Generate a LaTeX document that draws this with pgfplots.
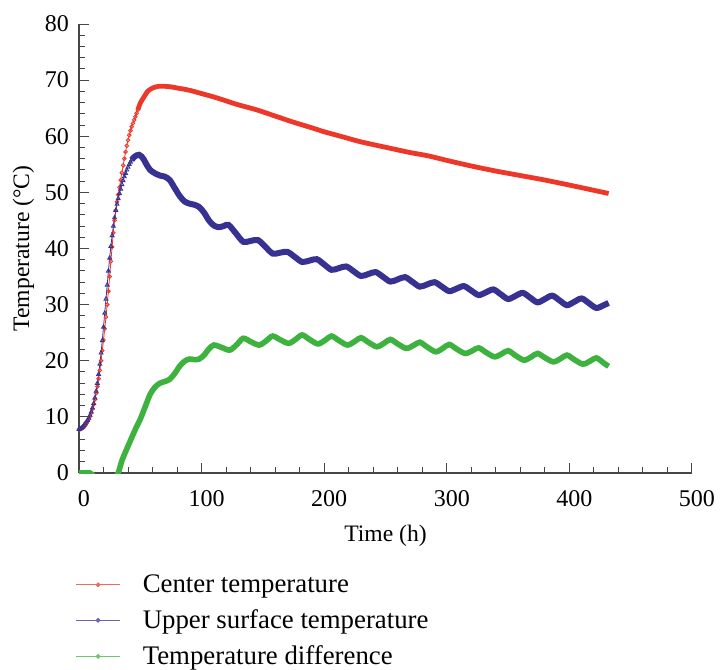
\documentclass[border=0pt]{standalone}
\usepackage{fontspec}
\setmainfont{Liberation Serif}
\usepackage{pgfplots}
\pgfplotsset{compat=1.18}
\definecolor{cRed}{RGB}{237,56,41}
\definecolor{cBlue}{RGB}{55,50,145}
\definecolor{cGreen}{RGB}{62,178,62}
\definecolor{axgray}{RGB}{70,70,70}
\begin{document}
\begin{tikzpicture}
\begin{axis}[
  at={(0,0)}, anchor=south west,
  scale only axis, width=306.5pt, height=224.5pt,
  xmin=0, xmax=500, ymin=0, ymax=80,
  axis lines=left, axis line style={-, axgray, line width=0.6pt},
  xtick={0,100,...,500}, ytick={0,10,...,80},
  minor tick num=4,
  major tick length=5pt, minor tick length=3pt,
  tick style={axgray, line width=0.5pt},
  tick align=inside,
  /pgf/number format/assume math mode=true,
  ticklabel style={font=\fontsize{12}{14}\selectfont, text=black},
  xticklabel style={xshift=2.5pt, yshift=-5pt},
  yticklabel style={xshift=-1.5pt},
  xlabel={Time (h)}, ylabel={Temperature (°C)},
  label style={font=\fontsize{11.8}{14}\selectfont},
  xlabel style={yshift=-2.5pt},
  ylabel style={yshift=-1.5pt},
  legend style={at={(0,0)}, anchor=north west, xshift=-2pt, yshift=-48.5pt,
    draw=none, fill=none, font=\fontsize{13.4}{15}\selectfont, row sep=3.1pt, column sep=9pt, inner sep=0pt},
  legend cell align=left,
  legend image code/.code={\draw[mark repeat=2,mark phase=2,#1] plot coordinates {(0pt,0pt) (11pt,0pt) (22pt,0pt)};},
]
\addlegendimage{cRed!75, line width=0.7pt, mark=*, mark size=0.8pt}
\addlegendentry{Center temperature}
\addlegendimage{cBlue!75, line width=0.7pt, mark=*, mark size=0.8pt}
\addlegendentry{Upper surface temperature}
\addlegendimage{cGreen!75, line width=0.7pt, mark=*, mark size=0.8pt}
\addlegendentry{Temperature difference}

% Center temperature: rise
\addplot[cRed, line width=0.4pt, mark=o, mark size=0.9pt, mark options={line width=0.45pt}, forget plot] coordinates {
(0,7.8)(1,7.8)(2,7.9)(3,8.0)(4,8.2)(5,8.5)(6,8.8)(7,9.2)(8,9.6)(9,10.1)(10,10.7)(11,11.4)(12,12.2)(13,13.1)(14,14.2)(15,15.4)(16,16.8)(17,18.3)(18,20.0)(19,21.8)(20,23.7)(21,25.7)(22,27.8)(23,30.0)(24,32.4)(25,35.0)(26,37.7)(27,40.3)(28,42.8)(29,45.0)(30,46.8)(31,48.3)(32,49.6)(33,50.9)(34,52.2)(35,53.5)(36,54.8)(37,56.0)(38,57.2)(39,58.3)(40,59.3)(41,60.2)(42,61.0)(43,61.7)(44,62.3)(45,62.9)(46,63.5)(47,64.1)(48,64.7)
};
\addplot[cRed, line width=2.4pt, smooth, forget plot] coordinates {
(48,64.7)(50,65.9)(53,67.0)(56,68.0)(60,68.6)(65,68.9)(70,68.9)(75,68.8)(80,68.6)(90,68.2)(100,67.6)(110,67.0)(120,66.3)(130,65.6)(145,64.7)(160,63.6)(175,62.5)(190,61.5)(200,60.8)(215,59.9)(230,59.0)(253,57.9)(270,57.1)(285,56.5)(300,55.7)(320,54.7)(340,53.8)(360,53.0)(380,52.2)(400,51.3)(415,50.6)(432,49.8)
};

% Upper surface temperature: rise
\addplot[cBlue, line width=0.4pt, mark=triangle, mark size=1.1pt, mark options={line width=0.45pt}, forget plot] coordinates {
(0,7.8)(1,7.9)(2,8.0)(3,8.2)(4,8.5)(5,8.8)(6,9.1)(7,9.4)(8,9.8)(9,10.3)(10,10.9)(11,11.6)(12,12.4)(13,13.4)(14,14.6)(15,16.0)(16,17.6)(17,19.4)(18,21.4)(19,23.6)(20,26.0)(21,28.5)(22,31.0)(23,33.5)(24,36.0)(25,38.3)(26,40.4)(27,42.3)(28,44.0)(29,45.5)(30,46.8)(31,47.9)(32,48.9)(33,49.8)(34,50.6)(35,51.4)(36,52.1)(37,52.8)(38,53.4)(39,54.0)(40,54.5)(41,55.0)(42,55.4)(43,55.8)
};
\addplot[cBlue, line width=3pt, smooth, forget plot] coordinates {
(43,55.8)(45,56.3)(47,56.6)(49,56.7)(51,56.4)(53,55.8)(55,55.0)(58,54.0)(62,53.4)(66,53.0)(70,52.8)(74,52.2)(78,50.8)(82,49.4)(86,48.4)(90,48.0)(94,47.8)(98,47.4)(102,46.4)(106,45.0)(110,44.1)(114,43.8)(118,44.0)
(122,44.2)(128,42.7)(134,41.2)(140,41.35)(146,41.5)(152,40.3)(158,39.1)(164,39.25)(170,39.4)(176,38.5)(182,37.6)(188,37.85)(194,38.1)(200,37.15)(206,36.2)(212,36.5)(218,36.8)(224,35.95)(230,35.1)(236,35.45)(242,35.8)(248,34.95)(254,34.1)(260,34.5)(266,34.9)(272,34.05)(278,33.2)(284,33.6)(290,34.0)(296,33.2)(302,32.4)(308,32.85)(314,33.3)(320,32.5)(326,31.7)(332,32.2)(338,32.7)(344,31.85)(350,31.0)(356,31.55)(362,32.1)(368,31.25)(374,30.4)(380,31.0)(386,31.6)(392,30.75)(398,29.9)(404,30.5)(410,31.1)(416,30.25)(422,29.4)(428,29.9)(432,30.3)
};

% Temperature difference
\addplot[cGreen, line width=2.8pt, smooth, forget plot] coordinates {
(0,0)(3,0)(6,0)(9,0)(11,-0.3)(14,-2)(18,-4)(22,-4)(26,-2.5)(30,-0.8)(32,0)(35,2.2)(38,3.8)(42,5.8)(46,7.8)(50,9.6)(54,11.8)(58,14.0)(62,15.3)(66,16.0)(70,16.3)(74,16.7)(78,17.7)(82,19.0)(86,19.9)(90,20.3)(94,20.2)(98,20.3)(102,21.0)(106,22.1)
(110,22.8)(116,22.4)(123,21.9)(129,22.95)(134,24.0)(140,23.4)(147,22.8)(153,23.6)(158,24.4)(164,23.75)(171,23.1)(177,23.85)(182,24.6)(188,23.8)(195,23.0)(201,23.7)(206,24.4)(212,23.6)(219,22.8)(225,23.45)(230,24.1)(236,23.3)(243,22.5)(249,23.15)(254,23.8)(260,23.0)(267,22.2)(273,22.75)(278,23.3)(284,22.45)(291,21.6)(297,22.25)(302,22.9)(308,22.1)(315,21.3)(321,21.8)(326,22.3)(332,21.5)(339,20.7)(345,21.25)(350,21.8)(356,20.95)(363,20.1)(369,20.7)(374,21.3)(380,20.55)(387,19.8)(393,20.4)(398,21.0)(404,20.2)(411,19.4)(417,19.95)(422,20.5)(428,19.6)(432,19.0)
};
\end{axis}
\pgfresetboundingbox
\path[use as bounding box] (-39.5pt,-98.5pt) rectangle (320.5pt,236.5pt);
\end{tikzpicture}
\end{document}
